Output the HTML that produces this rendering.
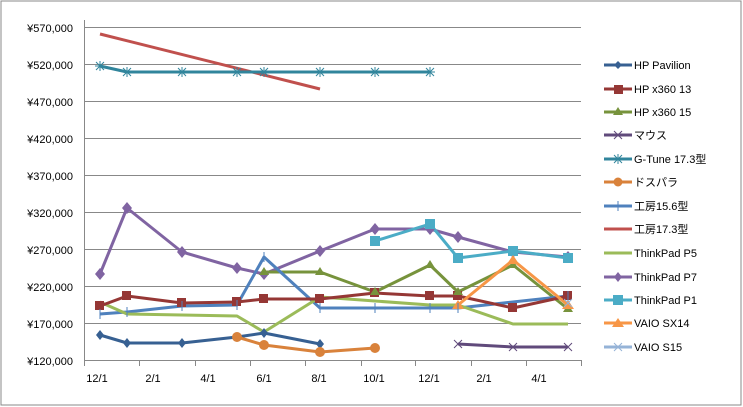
<!DOCTYPE html>
<html><head><meta charset="utf-8"><style>
html,body{margin:0;padding:0;background:#fff}
svg{display:block;font-family:"Liberation Sans","Noto Sans CJK JP",sans-serif;font-size:11px}
</style></head><body>
<svg width="743" height="407" xmlns="http://www.w3.org/2000/svg">
<rect x="1" y="1" width="740" height="404" fill="#fff" stroke="#888" stroke-width="1"/>
<g stroke="#888" stroke-width="1">
<line x1="85" y1="27.5" x2="581" y2="27.5"/><line x1="85" y1="64.5" x2="581" y2="64.5"/>
<line x1="85" y1="101.5" x2="581" y2="101.5"/><line x1="85" y1="138.5" x2="581" y2="138.5"/>
<line x1="85" y1="175.5" x2="581" y2="175.5"/><line x1="85" y1="212.5" x2="581" y2="212.5"/>
<line x1="85" y1="249.5" x2="581" y2="249.5"/><line x1="85" y1="286.5" x2="581" y2="286.5"/>
<line x1="85" y1="323.5" x2="581" y2="323.5"/><line x1="85" y1="360.5" x2="581" y2="360.5"/>
<line x1="84.5" y1="20" x2="84.5" y2="366"/>
<line x1="139.5" y1="360" x2="139.5" y2="366"/><line x1="195.5" y1="360" x2="195.5" y2="366"/>
<line x1="250.5" y1="360" x2="250.5" y2="366"/><line x1="305.5" y1="360" x2="305.5" y2="366"/>
<line x1="361.5" y1="360" x2="361.5" y2="366"/><line x1="415.5" y1="360" x2="415.5" y2="366"/>
<line x1="471.5" y1="360" x2="471.5" y2="366"/><line x1="526.5" y1="360" x2="526.5" y2="366"/>
<line x1="581.5" y1="360" x2="581.5" y2="366"/>
</g>
<g text-anchor="end" fill="#000">
<text x="73" y="32">¥570,000</text><text x="73" y="69">¥520,000</text><text x="73" y="106">¥470,000</text>
<text x="73" y="143">¥420,000</text><text x="73" y="180">¥370,000</text><text x="73" y="217">¥320,000</text>
<text x="73" y="254">¥270,000</text><text x="73" y="291">¥220,000</text><text x="73" y="328">¥170,000</text>
<text x="73" y="365">¥120,000</text>
</g>
<g text-anchor="middle">
<text x="97" y="382">12/1</text><text x="153" y="382">2/1</text><text x="208" y="382">4/1</text>
<text x="264" y="382">6/1</text><text x="319" y="382">8/1</text><text x="374" y="382">10/1</text>
<text x="429" y="382">12/1</text><text x="484" y="382">2/1</text><text x="539" y="382">4/1</text>
</g>
<g fill="none" stroke-width="3" stroke-linejoin="round">
<polyline stroke="#C0504D" points="100,34 320,89"/>
<polyline stroke="#31859C" points="100,66 127,72 182,72 237,72 264,72 320,72 375,72 430,72"/>
<polyline stroke="#8064A2" points="100,274 127,208 182,252 237,268 264,274 320,251 375,229 430,229 458,237 513,252 568,257"/>
<polyline stroke="#4BACC6" points="375,241 430,224 458,258 513,251 568,258"/>
<polyline stroke="#77933C" points="264,272 320,272 375,292 430,265 458,292 513,265 568,309"/>
<polyline stroke="#4F81BD" points="100,314 127,312 182,306 237,305 264,257 320,308 375,308 430,308 458,308 568,296"/>
<polyline stroke="#9BBB59" points="100,302 127,314 182,315 237,316 264,332 320,297 375,301 430,305 458,305 513,324 568,324"/>
<polyline stroke="#953735" points="100,306 127,296 182,303 237,302 264,299 320,299 375,293 430,296 458,296 513,308 568,296"/>
<polyline stroke="#F79646" points="458,305 513,260 568,305"/>
<polyline stroke="#376092" points="100,335 127,343 182,343 237,337 264,333 320,344"/>
<polyline stroke="#D9823B" points="237,337 264,345 320,352 375,348"/>
<polyline stroke="#604A7B" points="458,344 513,347 568,347"/>
</g>
<g fill="#8064A2">
<path d="M100,268l5,6-5,6-5-6z M127,202l5,6-5,6-5-6z M182,246l5,6-5,6-5-6z M237,262l5,6-5,6-5-6z M264,268l5,6-5,6-5-6z M320,245l5,6-5,6-5-6z M375,223l5,6-5,6-5-6z M430,223l5,6-5,6-5-6z M458,231l5,6-5,6-5-6z M513,246l5,6-5,6-5-6z M568,251l5,6-5,6-5-6z"/>
</g>
<g fill="#4BACC6"><rect x="370" y="236" width="10" height="10"/><rect x="425" y="219" width="10" height="10"/><rect x="453" y="253" width="10" height="10"/><rect x="508" y="246" width="10" height="10"/><rect x="563" y="253" width="10" height="10"/></g>
<g fill="#953735"><rect x="95" y="301" width="9" height="9"/><rect x="122" y="291" width="9" height="9"/><rect x="177" y="298" width="9" height="9"/><rect x="232" y="297" width="9" height="9"/><rect x="259" y="294" width="9" height="9"/><rect x="315" y="294" width="9" height="9"/><rect x="370" y="288" width="9" height="9"/><rect x="425" y="291" width="9" height="9"/><rect x="453" y="291" width="9" height="9"/><rect x="508" y="303" width="9" height="9"/><rect x="563" y="291" width="9" height="9"/></g>
<g fill="#77933C"><path d="M264,267l5,8h-10z M320,267l5,8h-10z M375,287l5,8h-10z M430,260l5,8h-10z M458,287l5,8h-10z M513,260l5,8h-10z M568,304l5,8h-10z"/></g>
<g fill="#F79646"><path d="M458,300l6,9h-12z M513,255l6,9h-12z M568,300l6,9h-12z"/></g>
<g fill="#376092"><path d="M100,330l4,5-4,5-4-5z M127,338l4,5-4,5-4-5z M182,338l4,5-4,5-4-5z M237,332l4,5-4,5-4-5z M264,328l4,5-4,5-4-5z M320,339l4,5-4,5-4-5z"/></g>
<g fill="#D9823B"><circle cx="237" cy="337" r="5"/><circle cx="264" cy="345" r="5"/><circle cx="320" cy="352" r="5"/><circle cx="375" cy="348" r="5"/></g>
<g stroke="#31859C" stroke-width="1"><path d="M95,66h10M100,61v10M96,62l8,8M104,62l-8,8 M122,72h10M127,67v10M123,68l8,8M131,68l-8,8 M177,72h10M182,67v10M178,68l8,8M186,68l-8,8 M232,72h10M237,67v10M233,68l8,8M241,68l-8,8 M259,72h10M264,67v10M260,68l8,8M268,68l-8,8 M315,72h10M320,67v10M316,68l8,8M324,68l-8,8 M370,72h10M375,67v10M371,68l8,8M379,68l-8,8 M425,72h10M430,67v10M426,68l8,8M434,68l-8,8"/></g>
<g stroke="#604A7B" stroke-width="1"><path d="M454,340l8,8M462,340l-8,8 M509,343l8,8M517,343l-8,8 M564,343l8,8M572,343l-8,8"/></g>
<g stroke="#4F81BD" stroke-width="1"><path d="M100,309v10M127,307v10M182,301v10M237,300v10M264,252v10M320,303v10M375,303v10M430,303v10M458,303v10M568,291v10"/></g>
<g stroke="#95B3D7" stroke-width="1"><path d="M564,299l8,8M572,299l-8,8"/></g>
<!-- legend -->
<g stroke-width="3">
<line x1="604" y1="65" x2="632" y2="65" stroke="#376092"/>
<line x1="604" y1="89" x2="632" y2="89" stroke="#953735"/>
<line x1="604" y1="112" x2="632" y2="112" stroke="#77933C"/>
<line x1="604" y1="135" x2="632" y2="135" stroke="#604A7B"/>
<line x1="604" y1="159" x2="632" y2="159" stroke="#31859C"/>
<line x1="604" y1="182" x2="632" y2="182" stroke="#D9823B"/>
<line x1="604" y1="206" x2="632" y2="206" stroke="#4F81BD"/>
<line x1="604" y1="229" x2="632" y2="229" stroke="#C0504D"/>
<line x1="604" y1="253" x2="632" y2="253" stroke="#9BBB59"/>
<line x1="604" y1="277" x2="632" y2="277" stroke="#8064A2"/>
<line x1="604" y1="300" x2="632" y2="300" stroke="#4BACC6"/>
<line x1="604" y1="323" x2="632" y2="323" stroke="#F79646"/>
<line x1="604" y1="347" x2="632" y2="347" stroke="#95B3D7"/>
</g>
<path d="M618,61l4,4-4,4-4-4z" fill="#376092"/>
<rect x="614" y="85" width="9" height="9" fill="#953735"/>
<path d="M618,107l5,8h-10z" fill="#77933C"/>
<path d="M614,131l8,8M622,131l-8,8" stroke="#604A7B"/>
<path d="M613,159h10M618,154v10M614,155l8,8M622,155l-8,8" stroke="#31859C"/>
<circle cx="618" cy="182" r="4.5" fill="#D9823B"/>
<path d="M618,201v10" stroke="#4F81BD"/>
<path d="M618,272l4,5-4,5-4-5z" fill="#8064A2"/>
<rect x="613" y="295" width="10" height="10" fill="#4BACC6"/>
<path d="M618,318l6,9h-12z" fill="#F79646"/>
<path d="M614,343l8,8M622,343l-8,8" stroke="#95B3D7"/>
<g fill="#000">
<text x="634" y="69">HP Pavilion</text>
<text x="634" y="93">HP x360 13</text>
<text x="634" y="116">HP x360 15</text>
<text x="634" y="139">マウス</text>
<text x="634" y="163">G-Tune 17.3型</text>
<text x="634" y="186">ドスパラ</text>
<text x="634" y="210">工房15.6型</text>
<text x="634" y="233">工房17.3型</text>
<text x="634" y="257">ThinkPad P5</text>
<text x="634" y="281">ThinkPad P7</text>
<text x="634" y="304">ThinkPad P1</text>
<text x="634" y="327">VAIO SX14</text>
<text x="634" y="351">VAIO S15</text>
</g>
</svg>
</body></html>
